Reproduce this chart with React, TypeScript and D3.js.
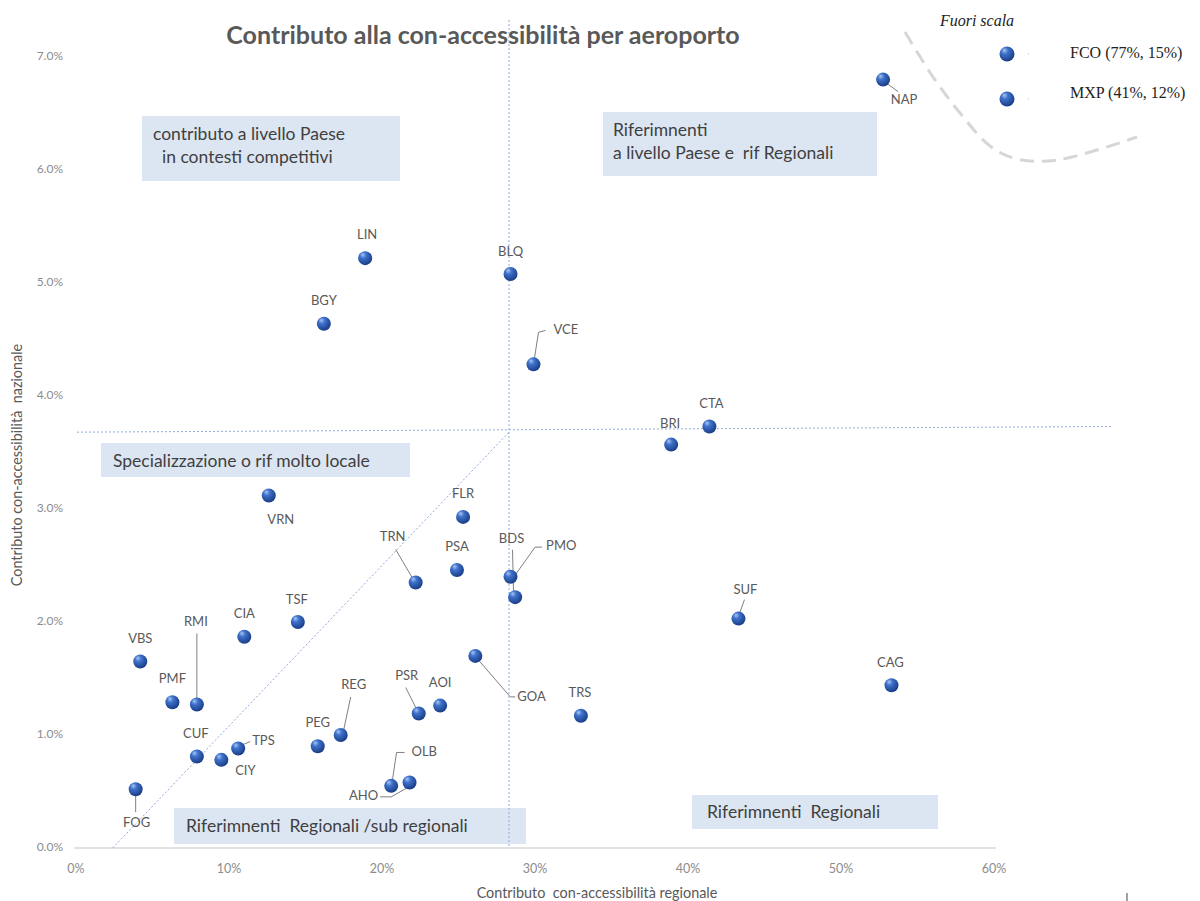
import * as d3 from 'd3'

// airports inside the scale: regional share (%), national share (%)
const codes = ['NAP', 'LIN', 'BLQ', 'BGY', 'VCE', 'CTA', 'BRI', 'VRN', 'FLR', 'PSA', 'TRN', 'BDS', 'PMO', 'SUF', 'TSF', 'CIA', 'VBS', 'GOA', 'CAG', 'PMF', 'RMI', 'REG', 'PSR', 'AOI', 'TRS', 'PEG', 'CUF', 'TPS', 'CIY', 'OLB', 'AHO', 'FOG']
const xRegional = [52.75, 18.9, 28.4, 16.2, 29.9, 41.4, 38.9, 12.6, 25.3, 24.9, 22.2, 28.4, 28.7, 43.3, 14.5, 11.0, 4.2, 26.1, 53.3, 6.3, 7.9, 17.3, 22.4, 23.8, 33.0, 15.8, 7.9, 10.6, 9.5, 21.8, 20.6, 3.9]
const yNational = [6.80, 5.22, 5.08, 4.64, 4.28, 3.73, 3.57, 3.12, 2.93, 2.46, 2.35, 2.40, 2.22, 2.03, 2.00, 1.87, 1.65, 1.70, 1.44, 1.29, 1.27, 1.00, 1.19, 1.26, 1.17, 0.90, 0.81, 0.88, 0.78, 0.58, 0.55, 0.52]

// airports out of scale (legend)
const outCodes = ['FCO', 'MXP']
const outX = [77, 41]
const outY = [15, 12]

const xTicks = [0, 10, 20, 30, 40, 50, 60]
const yTicks = [0, 1, 2, 3, 4, 5, 6, 7]

// quadrant dividers
const refX = 28.3
const refYLeft = 3.68
const refYRight = 3.73
const diagStartX = 2.4

const W = 1200
const H = 901
const GREY = '#595959'
const SANS = 'Lato, "Open Sans", sans-serif'
const SERIF = '"Liberation Serif", "DejaVu Serif", serif'

const x = d3.scaleLinear().domain([0, 60]).range([76, 994])
const y = d3.scaleLinear().domain([0, 7]).range([848, 57])

type Lbl = { dx: number; dy: number; anchor?: 'start' | 'middle' | 'end'; leader?: [number, number][] }

// label placement relative to each marker (pixels)
const labelPos: Record<string, Lbl> = {
  NAP: { dx: 21, dy: 21, leader: [[4, 4], [15, 12]] },
  LIN: { dx: 2, dy: -22 },
  BLQ: { dx: 0, dy: -21 },
  BGY: { dx: 0, dy: -22 },
  VCE: { dx: 20, dy: -34, anchor: 'start', leader: [[1, -6], [5, -32], [12, -34]] },
  CTA: { dx: 2, dy: -22 },
  BRI: { dx: -1, dy: -20 },
  VRN: { dx: 12, dy: 25 },
  FLR: { dx: 0, dy: -22 },
  PSA: { dx: 0, dy: -22 },
  TRN: { dx: -23, dy: -45, leader: [[-3, -4], [-20, -33]] },
  BDS: { dx: 1, dy: -37, leader: [[2, -27], [3, 15]] },
  PMO: { dx: 31, dy: -50, anchor: 'start', leader: [[27, -50], [20, -50], [0, -22]] },
  SUF: { dx: 7, dy: -28, leader: [[1, -5], [6, -19]] },
  TSF: { dx: -1, dy: -21 },
  CIA: { dx: 0, dy: -22 },
  VBS: { dx: 0, dy: -22 },
  GOA: { dx: 42, dy: 42, anchor: 'start', leader: [[3, 4], [35, 41], [40, 41]] },
  CAG: { dx: -1, dy: -22 },
  PMF: { dx: 0, dy: -23 },
  RMI: { dx: -1, dy: -82, leader: [[0, -6], [0, -71]] },
  REG: { dx: 13, dy: -49, leader: [[3, -5], [10, -38]] },
  PSR: { dx: -12, dy: -37, leader: [[-2, -4], [-13, -26]] },
  AOI: { dx: 0, dy: -22 },
  TRS: { dx: -1, dy: -22 },
  PEG: { dx: 0, dy: -23 },
  CUF: { dx: -1, dy: -22 },
  TPS: { dx: 14, dy: -7, anchor: 'start', leader: [[5, -4], [12, -7]] },
  CIY: { dx: 24, dy: 12 },
  OLB: { dx: 2, dy: -30, anchor: 'start', leader: [[-5, -30], [-13, -30], [-17, -3]] },
  AHO: { dx: -13, dy: 11, anchor: 'end', leader: [[-11, 11], [0, 11], [16, 2]] },
  FOG: { dx: 1, dy: 34, leader: [[0, 6], [0, 23]] },
}

// light-blue annotation boxes
const boxes = [
  { x: 142, y: 116, w: 258, h: 65, lines: ['contributo a livello Paese', '  in contesti competitivi'], tx: 153, ty: 140 },
  { x: 603, y: 112, w: 274, h: 64, lines: ['Riferimnenti', 'a livello Paese e  rif Regionali'], tx: 613, ty: 136 },
  { x: 101, y: 443, w: 309, h: 34, lines: ['Specializzazione o rif molto locale'], tx: 113, ty: 467 },
  { x: 174, y: 808, w: 352, h: 36, lines: ['Riferimnenti  Regionali /sub regionali'], tx: 186, ty: 832 },
  { x: 692, y: 795, w: 246, h: 34, lines: ['Riferimnenti  Regionali'], tx: 707, ty: 818 },
]

const curvePts: [number, number][] = [[905, 32], [933, 77], [960, 113], [990, 146], [1017, 159], [1057, 160], [1137, 137]]

export default function App() {
  const line = d3.line()
  const curve = d3.line().curve(d3.curveCatmullRom.alpha(0.5))
  const pct1 = d3.format('.1%')

  return (
    <div style={{ position: 'absolute', left: 0, top: 0, width: W, height: H, background: '#fff' }}>
      <svg width={W} height={H} style={{ display: 'block', fontFamily: SANS }}>
        <defs>
          <radialGradient id="ball" cx="0.4" cy="0.35" r="0.65" fx="0.32" fy="0.25">
            <stop offset="0%" stopColor="#a9c6f2" />
            <stop offset="35%" stopColor="#3f72cc" />
            <stop offset="100%" stopColor="#193d85" />
          </radialGradient>
        </defs>

        {/* title */}
        <text x={483} y={44} textAnchor="middle"
          style={{ fontSize: 25, fontWeight: 700, fill: GREY }}>
          Contributo alla con-accessibilità per aeroporto
        </text>

        {/* annotation boxes */}
        {boxes.map((b, i) => (
          <g key={i}>
            <rect x={b.x} y={b.y} width={b.w} height={b.h} fill="#dce6f2" />
            {b.lines.map((l, j) => (
              <text key={j} x={b.tx} y={b.ty + j * 23} style={{ fontSize: 17.5, fill: '#404040', whiteSpace: 'pre' }}>
                {l}
              </text>
            ))}
          </g>
        ))}

        {/* x axis line */}
        <line x1={x(0) - 2} x2={x(60) + 2} y1={y(0)} y2={y(0)} stroke="#d9d9d9" strokeWidth={1.5} />

        {/* quadrant reference lines */}
        <line x1={x(refX)} x2={x(refX)} y1={20} y2={y(0)} stroke="#8faadc" strokeWidth={1} strokeDasharray="2 2" />
        <line x1={77} x2={1112} y1={y(refYLeft)} y2={y(refYRight)} stroke="#8faadc" strokeWidth={1} strokeDasharray="2 2" />
        <line x1={x(diagStartX)} y1={y(0)} x2={x(refX)} y2={y(refYLeft)} stroke="#8faadc" strokeWidth={1} strokeDasharray="2 2" />

        {/* y ticks */}
        {yTicks.map(t => (
          <text key={t} x={63} y={y(t)} textAnchor="end" dominantBaseline="middle"
            style={{ fontSize: 12, fill: '#8c8c8c' }}>
            {pct1(t / 100)}
          </text>
        ))}
        {/* x ticks */}
        {xTicks.map(t => (
          <text key={t} x={x(t)} y={870} textAnchor="middle" dominantBaseline="middle"
            style={{ fontSize: 12.5, fill: '#8c8c8c' }}>
            {t}%
          </text>
        ))}

        {/* axis titles */}
        <text x={597} y={894} textAnchor="middle" dominantBaseline="middle" style={{ fontSize: 14.4, fill: GREY, whiteSpace: 'pre' }}>
          Contributo  con-accessibilità regionale
        </text>
        <text transform="translate(18,465) rotate(-90)" textAnchor="middle" dominantBaseline="middle"
          style={{ fontSize: 14.4, fill: GREY, whiteSpace: 'pre' }}>
          Contributo con-accessibilità  nazionale
        </text>

        {/* leaders */}
        {codes.map((c, i) => {
          const lp = labelPos[c]
          if (!lp || !lp.leader) return null
          const px = x(xRegional[i])
          const py = y(yNational[i])
          const pts = lp.leader.map(([a, b]) => [px + a, py + b] as [number, number])
          return <path key={c} d={line(pts) ?? ''} fill="none" stroke="#7f7f7f" strokeWidth={1} />
        })}

        {/* markers */}
        {codes.map((c, i) => (
          <circle key={c} cx={x(xRegional[i])} cy={y(yNational[i])} r={7} fill="url(#ball)" />
        ))}

        {/* labels */}
        {codes.map((c, i) => {
          const lp = labelPos[c] ?? { dx: 0, dy: -22 }
          return (
            <text key={c} x={x(xRegional[i]) + lp.dx} y={y(yNational[i]) + lp.dy}
              textAnchor={lp.anchor ?? 'middle'} dominantBaseline="middle"
              style={{ fontSize: 13, fill: GREY }}>
              {c}
            </text>
          )
        })}

        {/* out-of-scale legend */}
        <path d={curve(curvePts) ?? ''} fill="none" stroke="#d6d6d6" strokeWidth={3} strokeDasharray="14 8" />
        <text x={977} y={22} textAnchor="middle" dominantBaseline="middle"
          style={{ fontFamily: SERIF, fontStyle: 'italic', fontSize: 16, fill: '#222' }}>
          Fuori scala
        </text>
        {outCodes.map((c, i) => (
          <g key={c}>
            <circle cx={1007} cy={54 + i * 45} r={7.5} fill="url(#ball)" />
            <line x1={1028} x2={1029} y1={54 + i * 45} y2={54 + i * 45} stroke="#bbb" strokeWidth={1} />
            <text x={1070} y={54 + i * 40} dominantBaseline="middle"
              style={{ fontFamily: SERIF, fontSize: 16, fill: '#222' }}>
              {`${c} (${outX[i]}%, ${outY[i]}%)`}
            </text>
          </g>
        ))}

        {/* stray tick bottom right */}
        <line x1={1127} x2={1127} y1={893} y2={903} stroke="#444" strokeWidth={1} />
      </svg>
    </div>
  )
}
